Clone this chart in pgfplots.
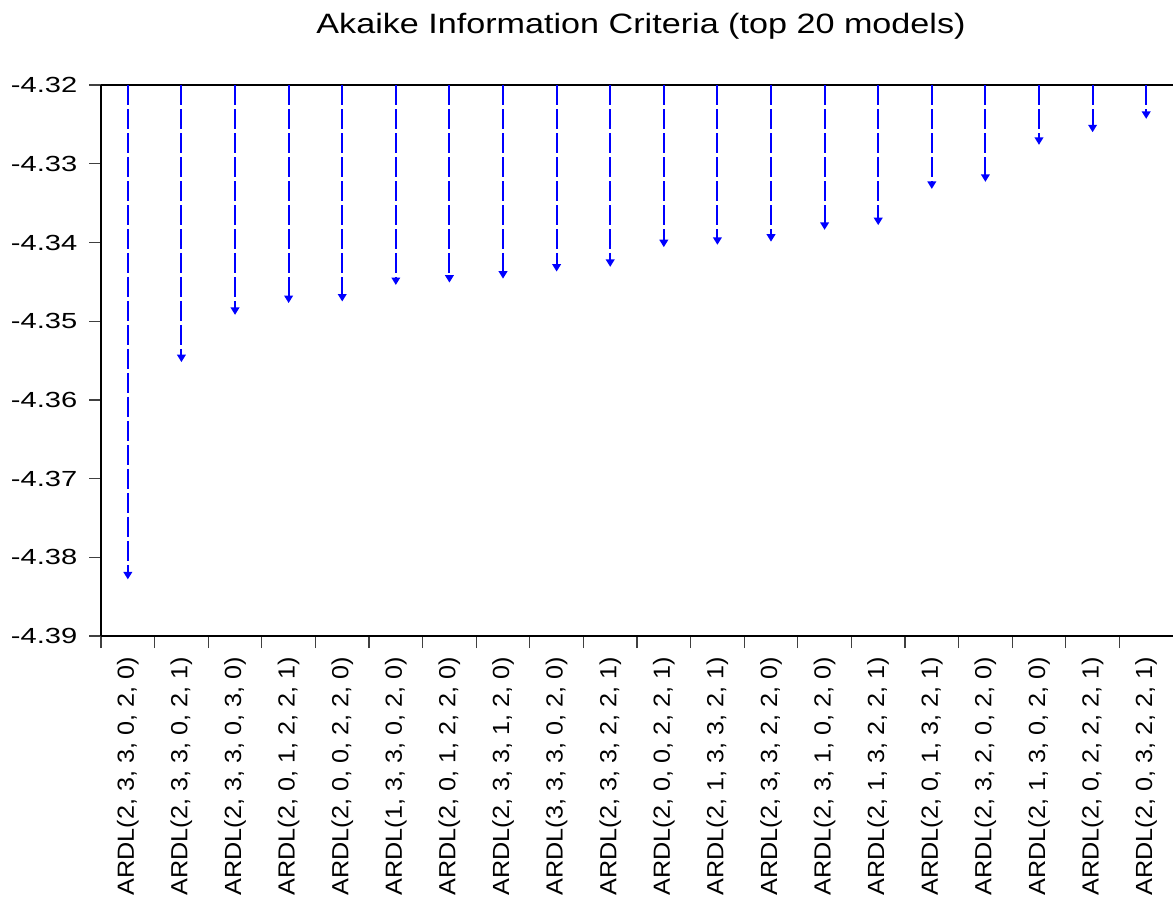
\documentclass[border=0pt]{standalone}
\usepackage{fontspec}
\setmainfont{Liberation Sans}
\newfontfamily\titlefont[FakeStretch=1.22]{Liberation Sans}
\newfontfamily\yfont[FakeStretch=1.33]{Liberation Sans}
\newfontfamily\xfont[FakeStretch=1.08]{Liberation Sans}
\usepackage{pgfplots}
\usepackage{pgfplotstable}
\pgfplotsset{compat=1.18}
\usetikzlibrary{arrows.meta}

\pgfplotstableread{
x aic
0 -4.3828
1 -4.3552
2 -4.3492
3 -4.3477
4 -4.3475
5 -4.3454
6 -4.3451
7 -4.3446
8 -4.3437
9 -4.3431
10 -4.3406
11 -4.3403
12 -4.3399
13 -4.3384
14 -4.3378
15 -4.3332
16 -4.3323
17 -4.3276
18 -4.3260
19 -4.3243
}\aictable

\begin{document}
\begin{tikzpicture}
\begin{axis}[
  scale only axis,
  width=402.1pt, height=206.7pt,
  xmin=-0.5, xmax=19.5, ymin=-4.39, ymax=-4.32,
  axis x line*=box, axis y line*=left,
  axis line style={black, line width=0.8pt},
  tick align=outside,
  xtick pos=bottom, ytick pos=left,
  ytick={-4.39,-4.38,-4.37,-4.36,-4.35,-4.34,-4.33,-4.32},
  yticklabels={-4.39,-4.38,-4.37,-4.36,-4.35,-4.34,-4.33,-4.32},
  yticklabel style={font=\yfont\fontsize{8.2}{9.8}\selectfont, black, xshift=-0.9pt},
  major tick length=4.5pt,
  minor tick length=4.5pt,
  tick style={black!75, line width=0.45pt},
  xtick={0,...,19},
  major x tick style={draw=none},
  minor xtick={-0.5,0.5,...,18.5},
  xticklabels={
    {ARDL(2, 3, 3, 0, 2, 0)},
    {ARDL(2, 3, 3, 0, 2, 1)},
    {ARDL(2, 3, 3, 0, 3, 0)},
    {ARDL(2, 0, 1, 2, 2, 1)},
    {ARDL(2, 0, 0, 2, 2, 0)},
    {ARDL(1, 3, 3, 0, 2, 0)},
    {ARDL(2, 0, 1, 2, 2, 0)},
    {ARDL(2, 3, 3, 1, 2, 0)},
    {ARDL(3, 3, 3, 0, 2, 0)},
    {ARDL(2, 3, 3, 2, 2, 1)},
    {ARDL(2, 0, 0, 2, 2, 1)},
    {ARDL(2, 1, 3, 3, 2, 1)},
    {ARDL(2, 3, 3, 2, 2, 0)},
    {ARDL(2, 3, 1, 0, 2, 0)},
    {ARDL(2, 1, 3, 2, 2, 1)},
    {ARDL(2, 0, 1, 3, 2, 1)},
    {ARDL(2, 3, 2, 0, 2, 0)},
    {ARDL(2, 1, 3, 0, 2, 0)},
    {ARDL(2, 0, 2, 2, 2, 1)},
    {ARDL(2, 0, 3, 2, 2, 1)}},
  xticklabel style={rotate=90, anchor=east, font=\xfont\fontsize{8.75}{10}\selectfont, black},
  title={Akaike Information Criteria (top 20 models)},
  title style={font=\titlefont\fontsize{10.5}{12}\selectfont, at={(0.5,1)}, anchor=base, yshift=13.5pt, xshift=1.5pt},
  clip=false,
]
\addplot[blue, line width=0.75pt, dash pattern=on 7.5pt off 1.5pt,
  -{Triangle[length=2.8pt,width=3.2pt]},
  quiver={u=0, v={\thisrow{aic}+4.32}}]
  table[x=x, y expr=-4.32] {\aictable};
\end{axis}
\pgfresetboundingbox
\path[use as bounding box] ([xshift=-37.9pt,yshift=-99pt]current axis.south west) rectangle ([yshift=31.9pt]current axis.north east);
\end{tikzpicture}
\end{document}
